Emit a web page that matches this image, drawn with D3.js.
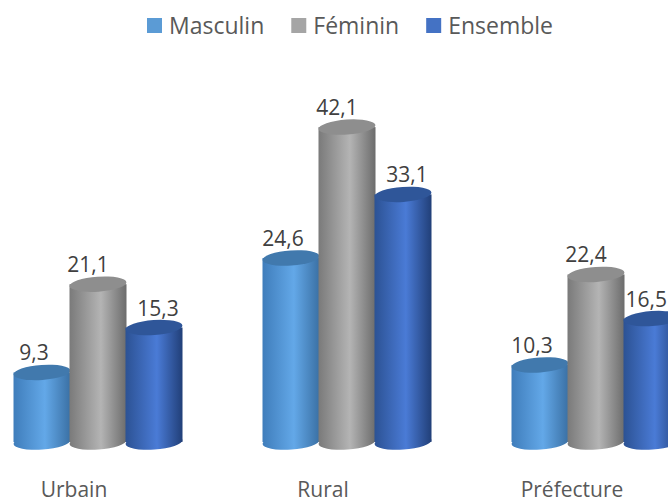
<!DOCTYPE html>
<html>
<head>
<meta charset="utf-8">
<script src="https://cdn.jsdelivr.net/npm/d3@7"></script>
<style>
  body { margin: 0; background: #fff; }
  svg { display: block; }
  text { font-family: "Open Sans", sans-serif; }
</style>
</head>
<body>
<div id="chart"></div>
<script>
// data
var categories = ["Urbain", "Rural", "Préfecture"];
var series = ["Masculin", "Féminin", "Ensemble"];
var masculin = [9.3, 24.6, 10.3];
var feminin = [21.1, 42.1, 22.4];
var ensemble = [15.3, 33.1, 16.5];
var values = [masculin, feminin, ensemble];

var width = 668, height = 504;

// colours per series: legend / body left, middle, right / top
var colors = [
  { key: "#5b9bd5", left: "#3f7dbb", mid: "#63a8e8", right: "#3a70a4", top: "#4179ad" },
  { key: "#a5a5a5", left: "#7a7a7a", mid: "#b4b4b4", right: "#6c6c6c", top: "#8e8e8e" },
  { key: "#4472c4", left: "#2c5294", mid: "#4a7bd6", right: "#213f78", top: "#2f5699" }
];

var svg = d3.select("#chart").append("svg")
    .attr("width", width)
    .attr("height", height);

var defs = svg.append("defs");
colors.forEach(function(c, i) {
  var g = defs.append("linearGradient").attr("id", "grad" + i)
      .attr("x1", "0").attr("x2", "1").attr("y1", "0").attr("y2", "0");
  g.append("stop").attr("offset", "0%").attr("stop-color", c.left);
  g.append("stop").attr("offset", "55%").attr("stop-color", c.mid);
  g.append("stop").attr("offset", "100%").attr("stop-color", c.right);
});

//scales
var x = d3.scalePoint().domain(categories).range([98, 596]);
var xs = d3.scalePoint().domain(series).range([-56, 56]);
var y = d3.scaleLinear().domain([0, 50]).range([442, 68]);

var rx = 28.5, ry = 7.5, tilt = -4;
var labelDx = [-8, -10, 4];

var groups = svg.selectAll("g.cat")
    .data(categories)
    .enter().append("g")
    .attr("class", "cat");

groups.each(function(cat, ci) {
  var g = d3.select(this);
  series.forEach(function(s, si) {
    var v = values[si][ci];
    var cx = x(cat) + xs(s);
    var yt = y(v), yb = y(0);
    var bar = g.append("g");
    bar.append("ellipse")
        .attr("cx", cx).attr("cy", yb)
        .attr("rx", rx).attr("ry", ry)
        .attr("transform", "rotate(" + tilt + "," + cx + "," + yb + ")")
        .attr("fill", "url(#grad" + si + ")");
    bar.append("rect")
        .attr("x", cx - rx).attr("y", yt)
        .attr("width", rx * 2).attr("height", yb - yt)
        .attr("fill", "url(#grad" + si + ")");
    bar.append("ellipse")
        .attr("cx", cx).attr("cy", yt)
        .attr("rx", rx).attr("ry", ry)
        .attr("transform", "rotate(" + tilt + "," + cx + "," + yt + ")")
        .attr("fill", colors[si].top);
    var lbl = g.append("text")
        .attr("x", cx + labelDx[si])
        .attr("y", yt - 12)
        .attr("text-anchor", "middle")
        .attr("font-size", 21)
        .attr("fill", "#404040")
        .text(String(v).replace(".", ","));
    // keep label inside the frame
    var w = lbl.node().getComputedTextLength();
    if (cx + labelDx[si] + w / 2 > width - 1) {
      lbl.attr("text-anchor", "end").attr("x", width - 1);
    }
  });
});

// category labels
svg.selectAll("text.catlabel")
    .data(categories)
    .enter().append("text")
    .attr("class", "catlabel")
    .attr("x", function(d) { return x(d) - 24; })
    .attr("y", 497)
    .attr("text-anchor", "middle")
    .attr("font-size", 21)
    .attr("fill", "#595959")
    .text(function(d) { return d; });

// legend
var legend = svg.append("g").attr("transform", "translate(147,0)");
var lx = 0;
series.forEach(function(s, i) {
  var item = legend.append("g").attr("transform", "translate(" + lx + ",0)");
  item.append("rect").attr("x", 0).attr("y", 18).attr("width", 15).attr("height", 15)
      .attr("fill", colors[i].key);
  var t = item.append("text").attr("x", 22).attr("y", 34)
      .attr("font-size", 23).attr("fill", "#595959").text(s);
  lx += 22 + t.node().getComputedTextLength() + 27;
});
</script>
</body>
</html>
